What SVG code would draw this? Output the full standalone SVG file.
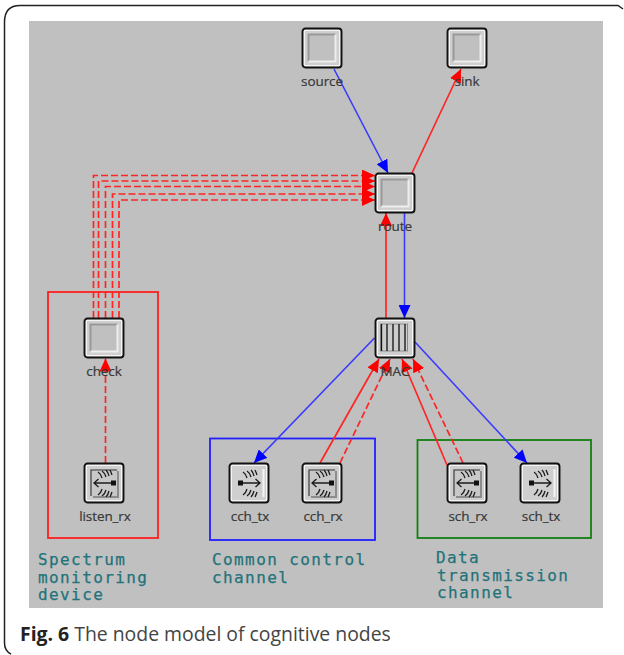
<svg xmlns="http://www.w3.org/2000/svg" width="624" height="655" viewBox="0 0 624 655">
<style>
.lbl{font-family:"Open Sans","Liberation Sans",sans-serif;font-size:13.500px;fill:#333;stroke:#444;stroke-width:.2;text-anchor:middle;letter-spacing:-.1px}
.note{font-family:"DejaVu Sans Mono","Liberation Mono",monospace;font-size:16px;letter-spacing:1.400px;fill:#23737a;stroke:#23737a;stroke-width:.25}
.r{stroke:#ff2525;stroke-width:1.700;fill:none}
.b{stroke:#3a3aff;stroke-width:1.600;fill:none}
.d{stroke-dasharray:7 3}
.cap{font-family:"Open Sans","Liberation Sans",sans-serif;font-size:19.400px;fill:#444}
.ic{stroke:#1c1c1c;stroke-width:1.300;fill:none}
</style>
<defs>
<g id="base">
<rect x="0.500" y="0.500" width="39" height="39" rx="3" fill="#e4e4e4" stroke="#111" stroke-width="1.900"/>
<rect x="2.500" y="2.500" width="35" height="35" fill="#cfcfcf" stroke="#f4f4f4" stroke-width="1"/>
</g>
<g id="proc">
<use href="#base"/>
<rect x="7" y="7" width="26" height="26" fill="#c0c0c0"/>
<path d="M6.500 33.500V6.500H33.500" fill="none" stroke="#999" stroke-width="2"/>
<path d="M33.500 6.500V33.500H6.500" fill="none" stroke="#eee" stroke-width="2"/>
</g>
<g id="waves">
<path class="ic" d="M14 9q3 2 4 6M18 8q3 2 4 6M22 7q2 2 3 6M26 7q1 2 2 5M14 32q3-2 4-6M18 33q3-2 4-6M22 34q2-2 3-6M26 34q1-2 2-5"/>
</g>
<g id="tx">
<use href="#base"/>
<path d="M34.500 6V34" stroke="#f4f4f4" stroke-width="2"/>
<use href="#waves"/>
<path class="ic" d="M10 20H31M26.500 16l4.500 4-4.500 4"/>
<rect x="9" y="17.500" width="5" height="5" fill="#111"/>
</g>
<g id="rx">
<use href="#base"/>
<rect x="6" y="6" width="28" height="28" fill="#c8c8c8"/>
<path d="M7 33V7H33" fill="none" stroke="#333" stroke-width="1.100"/>
<path d="M34 8V34H9" fill="none" stroke="#8c8c8c" stroke-width="2"/>
<use href="#waves"/>
<path class="ic" d="M10 20H31M14.500 16l-4.500 4 4.500 4"/>
<rect x="27" y="17.500" width="5" height="5" fill="#111"/>
</g>
<marker id="ar" markerUnits="userSpaceOnUse" viewBox="0 0 13 12" refX="13" refY="6" markerWidth="13" markerHeight="12" orient="auto"><path d="M0 0L13 6L0 12z" fill="#ff0000"/></marker>
<marker id="ab" markerUnits="userSpaceOnUse" viewBox="0 0 13 12" refX="13" refY="6" markerWidth="13" markerHeight="12" orient="auto"><path d="M0 0L13 6L0 12z" fill="#0000ff"/></marker>
</defs>
<rect width="624" height="655" fill="#fff"/>
<path d="M11 654Q4.500 651 4.500 643V22Q4.500 5.500 20 5.500H618L623 9" fill="none" stroke="#222" stroke-width="1.500"/>
<rect x="29" y="21" width="574" height="587" fill="#c0c0c0"/>
<g id="areas" fill="none" stroke-width="1.800">
<rect x="48" y="292" width="110" height="246" stroke="#ff2020"/>
<rect x="210" y="438.500" width="165" height="101.500" stroke="#2020ff"/>
<rect x="417.500" y="440" width="173.500" height="98" stroke="#108010"/>
</g>
<g id="connectors">
<path class="b" marker-end="url(#ab)" d="M334 69L388 173"/>
<path class="r" marker-end="url(#ar)" d="M412 173L461 69"/>
<path class="r" marker-end="url(#ar)" d="M386 318V213"/>
<path class="b" marker-end="url(#ab)" d="M404.500 213V318"/>
<path class="r d" marker-end="url(#ar)" d="M93.500 318V175.500H375"/>
<path class="r d" marker-end="url(#ar)" d="M98.500 318V181H375"/>
<path class="r d" marker-end="url(#ar)" d="M105.500 318V186.500H375"/>
<path class="r d" marker-end="url(#ar)" d="M112.500 318V194H375"/>
<path class="r d" marker-end="url(#ar)" d="M119 318V200H375"/>
<path class="r d" marker-end="url(#ar)" d="M105.500 463V358.500"/>
<path class="b" marker-end="url(#ab)" d="M374.500 338L254 463"/>
<path class="b" marker-end="url(#ab)" d="M415 342L527 463"/>
<path class="r" marker-end="url(#ar)" d="M320 463L379 359"/>
<path class="r d" marker-end="url(#ar)" d="M340 463L390 359"/>
<path class="r" marker-end="url(#ar)" d="M447 465L402 359"/>
<path class="r d" marker-end="url(#ar)" d="M463 463L413 359"/>
</g>
<g id="source"><use href="#proc" x="302" y="28"/><text class="lbl" x="322" y="86">source</text></g>
<g id="sink"><use href="#proc" x="447" y="28"/><text class="lbl" x="467" y="86">sink</text></g>
<g id="route"><use href="#proc" x="375" y="173"/><text class="lbl" x="395" y="231">route</text></g>
<g id="check"><use href="#proc" x="84" y="318"/><text class="lbl" x="104" y="376">check</text></g>
<g id="MAC"><use href="#base" x="375" y="318"/><rect x="380.500" y="324" width="27" height="27" fill="#cccccc" stroke="#8c8c8c"/><path d="M381.500 324V351M387 324V351M393 324V351M399 324V351M405 324V351" stroke="#111" stroke-width="1.300"/><text class="lbl" x="395" y="376">MAC</text></g>
<g id="listen_rx"><use href="#rx" x="84" y="463"/><text class="lbl" x="105" y="521">listen_rx</text></g>
<g id="cch_tx"><use href="#tx" x="229" y="463"/><text class="lbl" x="250" y="521">cch_tx</text></g>
<g id="cch_rx"><use href="#rx" x="302" y="463"/><text class="lbl" x="323" y="521">cch_rx</text></g>
<g id="sch_rx"><use href="#rx" x="447" y="463"/><text class="lbl" x="468" y="521">sch_rx</text></g>
<g id="sch_tx"><use href="#tx" x="520" y="463"/><text class="lbl" x="541" y="521">sch_tx</text></g>
<g id="notes">
<text class="note" x="38" y="565">Spectrum</text>
<text class="note" x="38" y="582.500">monitoring</text>
<text class="note" x="38" y="600">device</text>
<text class="note" x="212" y="565">Common control</text>
<text class="note" x="212" y="582.500">channel</text>
<text class="note" x="436" y="563">Data</text>
<text class="note" x="437" y="580.500">transmission</text>
<text class="note" x="437" y="598">channel</text>
</g>
<text class="cap" x="20" y="641"><tspan font-weight="700" fill="#222">Fig. 6</tspan> The node model of cognitive nodes</text>
</svg>
